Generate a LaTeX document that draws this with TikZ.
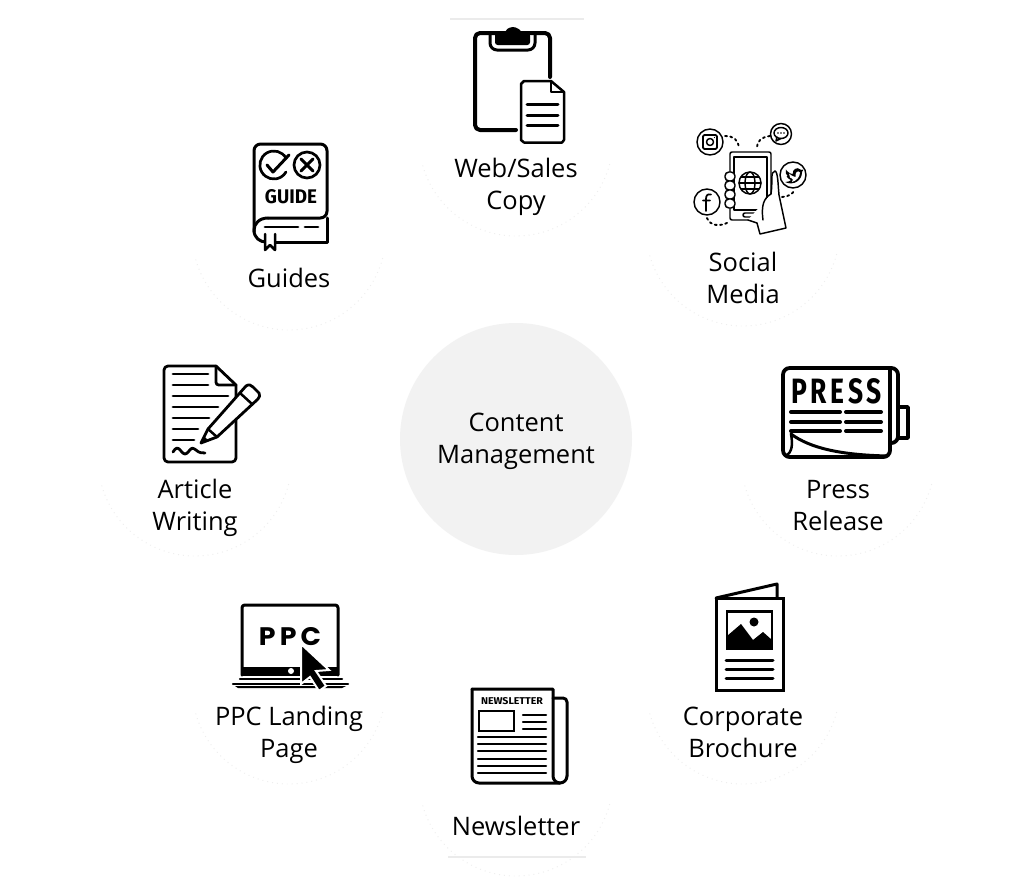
\documentclass[tikz,border=0pt]{standalone}
\usepackage{fontspec}
\usepackage{graphicx}
\setmainfont{Open Sans}
\newfontfamily\iconfont{Fira Sans}
\newfontfamily\heavyfont{Poppins}
\definecolor{hub}{HTML}{F2F2F2}
\definecolor{ringdot}{HTML}{EEEEEE}
\definecolor{rule}{HTML}{EBEBEB}
\newcommand{\fitbox}[3]{\resizebox{\dimexpr#1pt*3/4\relax}{\dimexpr#2pt*3/4\relax}{#3}}
\tikzset{
  x=0.75pt,y=-0.75pt,
  label/.style={font=\fontsize{19.1}{24}\selectfont,align=center,text=black,inner sep=0pt,anchor=center},
  ring/.style={draw=ringdot,line width=0.7pt,dash pattern=on 0.7pt off 3pt},
  ln/.style={draw=black,line width=#1*0.75pt,line cap=round,line join=round},
  ln/.default=3,
  icontext/.style={inner sep=0pt,text=black}
}
\newcommand{\faintarc}[2]{\draw[ring] ([shift={(15:97)}]#1,#2) arc[start angle=15,end angle=165,radius=97];}
\begin{document}
\begin{tikzpicture}
\useasboundingbox (0,0) rectangle (1033,878);
\fill[white] (0,0) rectangle (1033,878);

% faint rings behind the labels
\faintarc{516}{139}
\faintarc{743}{229}
\faintarc{838}{459}
\faintarc{743}{687}
\faintarc{516}{779}
\faintarc{289}{687}
\faintarc{195}{459}
\faintarc{289}{233}
\draw[rule,line width=1.2pt] (450,19) -- (584,19);
\draw[rule,line width=1.6pt] (448,857) -- (586,857);

% central disc
\fill[hub] (516,439) circle[radius=116];
\node[label] (hubtext) at (516,441) {Content\\Management};

% clipboard with sheet
\draw[ln=4] (550,77) -- (550,38) arc[start angle=0,end angle=-90,radius=5] -- (480,33) arc[start angle=-90,end angle=-180,radius=5] -- (475,125) arc[start angle=180,end angle=90,radius=5] -- (516,130);
\draw[ln=3] (490,35) -- (490,43) arc[start angle=180,end angle=90,radius=7] -- (528,50) arc[start angle=90,end angle=0,radius=7] -- (535,35);
\fill[black,rounded corners=2pt] (495,33) -- (505.5,33) arc[start angle=195,end angle=345,radius=8] -- (530,33) -- (530,45) -- (495,45) -- cycle;
\draw[ln=2.5,fill=white] (524,81) -- (551,81) -- (564,92) -- (564,140) -- (562,142.5) -- (524,142.5) -- (521,140) -- (521,84) -- cycle;
\draw[ln=2] (551,81) -- (551,92) -- (564,92);
\foreach \yy in {104,115,125} \draw[ln=3] (527,\yy) -- (558,\yy);
\node[label] (web) at (516,187) {Web/Sales\\Copy};

% phone in a hand, with social bubbles
\begin{scope}[line width=1.1pt,line cap=round,line join=round]
\draw[rounded corners=1.5pt] (730,152) rectangle (771,220);
\draw (734,157) -- (767,157) -- (767,210) -- (734,210) -- cycle;
\draw[rounded corners=1.5pt] (743,213) rectangle (757,217);
\draw (750,183) circle[radius=11];
\draw (739,183) -- (761,183) (741,177) -- (759,177) (741,189) -- (759,189);
\draw (750,183) ellipse[x radius=5,y radius=11];
\foreach \yy in {176.5,185.5,194.5,203.5}{\fill[white,draw=black,rounded corners=3pt] (725,\yy-4.5) rectangle (735,\yy+4.5);}
\draw[fill=white] (771,194) .. controls (773,180) and (770,172) .. (775,171) .. controls (778,172) and (778,185) .. (779,195) -- (786,228) -- (760,234) -- (757,223) -- (748,220);
\draw (771,194) .. controls (764,198) and (761,205) .. (763,220);
% bubbles
\draw (710,142) circle[radius=13];
\draw[line width=1.4pt,rounded corners=1pt] (703,135) rectangle (717,149);
\draw (710,142) circle[radius=3.5];
\fill (714.5,137.5) circle[radius=0.7];
\draw (781,134) circle[radius=10.5];
\draw (781,133) ellipse[x radius=7,y radius=5.5];
\draw (777,137) -- (776,141) -- (781,138.5);
\foreach \xx in {778,781,784} \fill (\xx,133) circle[radius=0.8];
\draw (793,175) circle[radius=13];
\fill[black,rounded corners=0.4pt] (786,170) .. controls (790,174) and (792,174) .. (793,174) .. controls (792,170) and (797,166) .. (801,170) -- (803.5,169.5) -- (802,172) .. controls (802,180) and (794,186) .. (785,182) .. controls (788,182) and (790,181) .. (791,180) .. controls (788,179) and (787,177) .. (786.5,176) -- (788,176) .. controls (786,175) and (785,172) .. (786,170) -- cycle;
\fill[white] (789,173.5) .. controls (792,176) and (794,177) .. (795.5,177) .. controls (795,172) and (798,170) .. (800,172.5) .. controls (800,177) and (796,181) .. (792,182) .. controls (794,180) and (793,179) .. (790,177.5) .. controls (789.5,176) and (789,175) .. (789,173.5) -- cycle;
\draw (707,202) circle[radius=13];
\draw[line width=1.3pt] (711,194.5) .. controls (707,193.5) and (706,196) .. (706,199) -- (706,211) (703,200.5) -- (710,200.5);
% dotted tethers
\draw[line width=1.4pt,dash pattern=on 1.5pt off 2.5pt] (725,136) .. controls (734,136) and (738,140) .. (739,148);
\draw[line width=1.4pt,dash pattern=on 1.5pt off 2.5pt] (770,136) .. controls (761,137) and (757,142) .. (757,147);
\draw[line width=1.4pt,dash pattern=on 1.5pt off 2.5pt] (782,197) .. controls (790,196) and (793,194) .. (794,190);
\draw[line width=1.4pt,dash pattern=on 1.5pt off 2.5pt] (707,218) .. controls (710,226) and (720,227) .. (729,222);
\end{scope}
\node[label] (social) at (743,278) {Social\\Media};

% press sheet
\draw[ln=3.5] (898,407) -- (908,407) -- (908,438) -- (898,438);
\draw[ln=3.8,rounded corners=5pt] (783,436) -- (783,368) -- (898,368) -- (898,443) -- (890,443);
\draw[ln=3.8,rounded corners=5pt] (890,368) -- (890,457) -- (783,457) -- (783,430);
\draw[ln=3] (791,434) .. controls (810,448) and (840,455) .. (888,456);
\draw[ln=2.5] (791,434) .. controls (793,445) and (792,452) .. (786,456);
\node[icontext] (presshead) at (836.5,391) {\fitbox{91}{25}{\iconfont\bfseries P\kern1.4pt R\kern1.4pt E\kern1.4pt S\kern1.4pt S}};
\foreach \yy in {412,422,431} {\draw[ln=4] (791,\yy) -- (840,\yy); \draw[ln=4] (846,\yy) -- (881,\yy);}
\node[label] (press) at (838,506) {Press\\Release};

% folded brochure
\draw[ln=3] (716,598) -- (777,584) -- (777,598);
\draw[ln=3,line cap=butt,line join=miter] (716,598) rectangle (783,690);
\fill[black] (726,610) rectangle (773,650);
\fill[white] (728,612.5) rectangle (771,648);
\fill[black] (727,636) -- (741,624) -- (753,640) -- (763,632) -- (772,640) -- (772,649) -- (727,649) -- cycle;
\fill[black] (754,622) circle[radius=4.5];
\foreach \yy in {660,669,678} \draw[ln=3] (726,\yy) -- (773,\yy);
\node[label] (brochure) at (743,732) {Corporate\\Brochure};

% newsletter
\draw[ln=3,rounded corners=3pt] (553,698) -- (567,698) -- (567,776);
\draw[ln=3] (567,776) arc[start angle=0,end angle=90,radius=7];
\draw[ln=3] (472,689) -- (553,689) -- (553,776) arc[start angle=180,end angle=90,radius=7];
\draw[ln=3] (472,689) -- (472,776) arc[start angle=180,end angle=90,radius=7] -- (560,783);
\node[icontext] (nlhead) at (512,701) {\fitbox{62}{7}{\iconfont\bfseries NEWSLETTER}};
\draw[ln=2.5,line cap=butt,line join=miter] (479,711) rectangle (514,731);
\foreach \yy in {715,722,729} \draw[ln=2.5] (523,\yy) -- (546,\yy);
\foreach \yy in {737,744,751,759,766,773} \draw[ln=2.5] (478,\yy) -- (546,\yy);
\node[label] (newsletter) at (516,826) {Newsletter};

% PPC laptop
\draw[ln=3,rounded corners=2pt] (242,675) -- (242,605) -- (338,605) -- (338,675);
\fill[black] (242,667) rectangle (338,676);
\fill[white] (291,671) circle[radius=3];
\node[icontext] (ppchead) at (290,636.5) {\fitbox{62}{18}{\heavyfont\bfseries P\kern1.5pt P\kern1.5pt C}};
\draw[ln=2.5] (240,679) -- (342,679);
\draw[ln=2.5] (233,684) -- (348,684);
\fill[black] (235,686) -- (346,686) -- (342,688) -- (238,688) -- cycle;
\draw[fill=black,draw=white,line width=1.5pt,line join=miter] (301,644) -- (329,670) -- (316,671) -- (326,686) -- (319,691) -- (310,677) -- (301,684) -- cycle;
\node[label] (ppc) at (289,735) {PPC Landing\\Page};

% article and pencil
\draw[ln=2.8,rounded corners=3pt] (236,420) -- (236,462) -- (164,462) -- (164,366) -- (216,366);
\draw[ln=2.8] (216,366) -- (236,385) -- (236,398);
\draw[ln=2.8,rounded corners=2pt] (216,366) -- (216,385) -- (236,385);
\foreach \yy/\xe in {374/208,385/208,396/228,407/218,418/209,429/198,440/194} \draw[ln=2.8] (173,\yy) -- (\xe,\yy);
\draw[ln=2.8] (173,452) .. controls (176,447) and (178,447) .. (181,451) .. controls (184,455) and (186,455) .. (189,451) .. controls (192,447) and (193,448) .. (196,450) .. controls (199,453) and (202,453) .. (205,453);
\draw[ln=2.8,fill=white] (201,443) -- (208,429) -- (246,386) .. controls (249,384) and (251,385) .. (253,387) -- (259,393) .. controls (260,395) and (260,397) .. (258,399) -- (217,437) -- cycle;
\draw[ln=2.5] (208,429) -- (217,437) (240,393) -- (252,404);
\fill[black] (201,443) -- (204,436) -- (208,440) -- cycle;
\node[label] (article) at (195,508) {Article\\Writing};

% guide book
\draw[ln=3,rounded corners=5pt] (254,232) -- (254,144) -- (327,144) -- (327,218) -- (268,218);
\draw[ln=3] (268,218) .. controls (259,218) and (254,224) .. (254,230) .. controls (254,238) and (260,242) .. (266,242);
\draw[ln=3] (327,218) -- (327,242) -- (275,242);
\draw[ln=2.8] (265,227) -- (298,227) (305,227) -- (318,227);
\draw[ln=2.5,fill=white] (265,234) -- (265,250) -- (270,245) -- (275,250) -- (275,234);
\draw[ln=2.7] (286,158) arc[start angle=-30,end angle=-330,radius=14];
\draw[ln=3] (267,165) -- (273,172) -- (289,155);
\draw[ln=2.7] (307,165) circle[radius=13];
\draw[ln=3] (301,159) -- (313,171) (313,159) -- (301,171);
\node[icontext] (guidehead) at (291,197) {\fitbox{52}{14}{\iconfont\bfseries GUIDE}};
\node[label] (guides) at (289,278) {Guides};
\end{tikzpicture}
\end{document}
